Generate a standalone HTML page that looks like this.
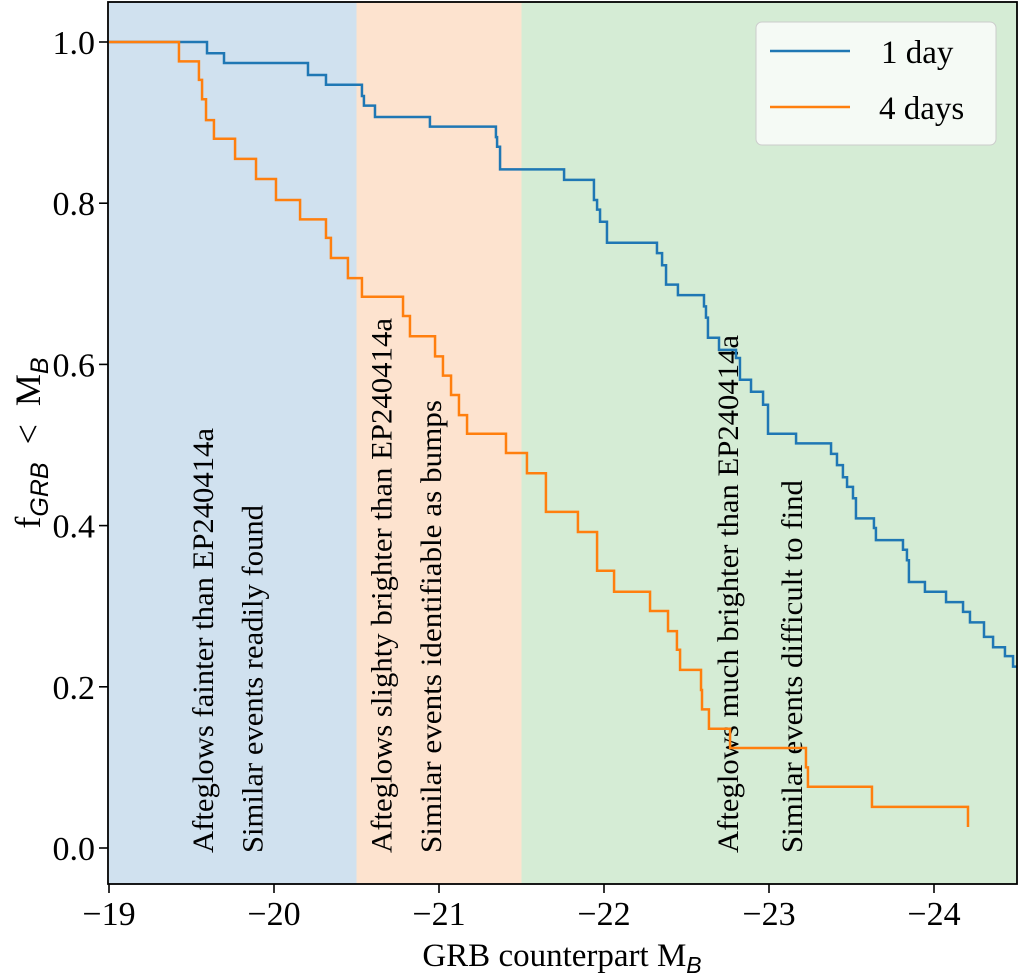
<!DOCTYPE html>
<html><head><meta charset="utf-8">
<style>
html,body{margin:0;padding:0;background:#fff;}
svg{display:block;font-family:"Liberation Serif",serif;}
</style></head>
<body>
<svg id="chart" width="1020" height="980" viewBox="0 0 1020 980" xmlns="http://www.w3.org/2000/svg">
<g id="regions"></g>
<g id="annotations"></g>
<g id="series"></g>
<g id="axes"></g>
<g id="legend">
  <rect x="756" y="22" width="240" height="123" rx="6" fill="#f5faf5" stroke="#cccccc" stroke-width="1"/>
  <line x1="770" y1="51" x2="850" y2="51" stroke="#1f77b4" stroke-width="2.5"/>
  <text x="881" y="63" font-size="33">1 day</text>
  <line x1="770" y1="107" x2="850" y2="107" stroke="#ff7f0e" stroke-width="2.5"/>
  <text x="879" y="119" font-size="33">4 days</text>
</g>
</svg>
<script>
// ---- data ----
const xTicks = [-19, -20, -21, -22, -23, -24];
const yTicks = [0.0, 0.2, 0.4, 0.6, 0.8, 1.0];
const regionEdges = [-19, -20.5, -21.5, -24.5];
const regionColors = ["#d0e1ef", "#fde3cf", "#d5ecd5"];
const oneDayM = [-19.0,-19.594,-19.697,-20.206,-20.315,-20.533,-20.545,-20.612,-20.945,-21.345,-21.352,-21.370,-21.758,-21.939,-21.958,-21.976,-22.018,-22.321,-22.352,-22.376,-22.448,-22.606,-22.618,-22.630,-22.697,-22.800,-22.824,-22.891,-22.964,-22.994,-23.164,-23.376,-23.412,-23.448,-23.473,-23.509,-23.527,-23.636,-23.648,-23.812,-23.836,-23.848,-23.945,-24.073,-24.176,-24.218,-24.303,-24.358,-24.430,-24.479];
const oneDayF = [1.000,0.986,0.974,0.959,0.947,0.933,0.921,0.907,0.895,0.882,0.870,0.842,0.829,0.804,0.792,0.777,0.751,0.738,0.723,0.699,0.686,0.672,0.658,0.633,0.618,0.608,0.581,0.566,0.550,0.514,0.502,0.489,0.475,0.460,0.448,0.434,0.409,0.397,0.382,0.370,0.357,0.330,0.318,0.305,0.293,0.280,0.262,0.249,0.238,0.225];
const fourDayM = [-19.0,-19.424,-19.545,-19.564,-19.588,-19.636,-19.764,-19.891,-20.012,-20.158,-20.315,-20.345,-20.448,-20.533,-20.782,-20.824,-20.976,-21.024,-21.073,-21.121,-21.170,-21.406,-21.533,-21.648,-21.842,-21.958,-22.061,-22.279,-22.388,-22.442,-22.461,-22.588,-22.594,-22.636,-22.764,-23.224,-23.236,-23.624,-24.206];
const fourDayF = [1.000,0.976,0.953,0.929,0.903,0.880,0.855,0.830,0.804,0.780,0.757,0.732,0.707,0.684,0.660,0.635,0.610,0.586,0.562,0.537,0.514,0.490,0.465,0.417,0.392,0.344,0.318,0.294,0.269,0.246,0.221,0.196,0.172,0.148,0.124,0.100,0.076,0.051,0.026];
const annotationTexts = ["Afteglows fainter than EP240414a","Similar events readily found","Afteglows slighty brighter than EP240414a","Similar events identifiable as bumps","Afteglows much brighter than EP240414a","Similar events difficult to find"];
const annotationM = [-19.57, -19.87, -20.65, -20.95, -22.75, -23.14];

// ---- axes functions ----
const X0 = 109, PXU = 165, Y0 = 848, PYU = 806;
const L = 108, R = 1017, T = 2, B = 884;
const xs = m => X0 + (-m - 19) * PXU;
const ys = f => Y0 - f * PYU;
const NS = "http://www.w3.org/2000/svg";
function mk(tag, attrs, parent){ const e=document.createElementNS(NS,tag); for(const k in attrs) e.setAttribute(k,attrs[k]); parent.appendChild(e); return e; }

// regions
const gReg = document.getElementById('regions');
for (let i=0;i<regionColors.length;i++){
  const x1 = xs(regionEdges[i]), x2 = xs(regionEdges[i+1]);
  const r = mk('rect',{x:Math.max(L,x1),y:T,width:Math.min(R,x2)-Math.max(L,x1),height:B-T,fill:regionColors[i]},gReg);
  
  
}

// annotations
const gAnn = document.getElementById('annotations');
const annLens = [425, 348, 535, 453, 518, 373];
for (let i=0;i<annotationTexts.length;i++){
  const x = xs(annotationM[i]) + 10, y = 853;
  const t = mk('text',{x:x,y:y,'font-size':30,transform:`rotate(-90 ${x} ${y})`,textLength:annLens[i],lengthAdjust:'spacingAndGlyphs'},gAnn);
  t.textContent = annotationTexts[i];
  
  
}

// step series
function stepPath(M, F, endM){
  let d = `M${xs(M[0])},${ys(F[0])}`;
  for (let i=1;i<M.length;i++){ d += ` H${xs(M[i])} V${ys(F[i])}`; }
  if (endM !== null) d += ` H${xs(endM)}`;
  return d;
}
const gS = document.getElementById('series');
const p1 = mk('path',{d:stepPath(oneDayM,oneDayF,-24.5),fill:'none',stroke:'#1f77b4','stroke-width':2.5},gS);


const p4 = mk('path',{d:stepPath(fourDayM,fourDayF,null),fill:'none',stroke:'#ff7f0e','stroke-width':2.5},gS);



// axes
const gA = document.getElementById('axes');
const frame = mk('rect',{x:L,y:T,width:R-L,height:B-T,fill:'none',stroke:'#000','stroke-width':1.8},gA);


xTicks.forEach(v=>{
  const x = xs(v);
  const tk = mk('line',{x1:x,y1:B,x2:x,y2:B+9,stroke:'#000','stroke-width':1.6},gA);
  
  
  const lb = mk('text',{x:x,y:B+41,'font-size':34,'text-anchor':'middle'},gA);
  lb.textContent = '\u2212' + Math.abs(v);
  
  
});
yTicks.forEach(v=>{
  const y = ys(v);
  const tk = mk('line',{x1:L-9,y1:y,x2:L,y2:y,stroke:'#000','stroke-width':1.6},gA);
  
  
  const lb = mk('text',{x:L-13,y:y+12,'font-size':34,'text-anchor':'end'},gA);
  lb.textContent = v.toFixed(1);
  
  
});
const xt = mk('text',{x:562,y:966,'font-size':33,'text-anchor':'middle'},gA);
xt.innerHTML = 'GRB counterpart M<tspan font-family="Liberation Sans, sans-serif" font-style="italic" font-size="23" dy="7">B</tspan>';


const yt = mk('text',{x:0,y:0,'font-size':36,'text-anchor':'middle',transform:'translate(40 443) rotate(-90)'},gA);
yt.innerHTML = 'f<tspan font-family="Liberation Sans, sans-serif" font-style="italic" font-size="25" dy="8">GRB</tspan><tspan dy="-8">&#160;&#160;&lt;&#160;&#160;M</tspan><tspan font-family="Liberation Sans, sans-serif" font-style="italic" font-size="25" dy="8">B</tspan>';


</script>
</body></html>
